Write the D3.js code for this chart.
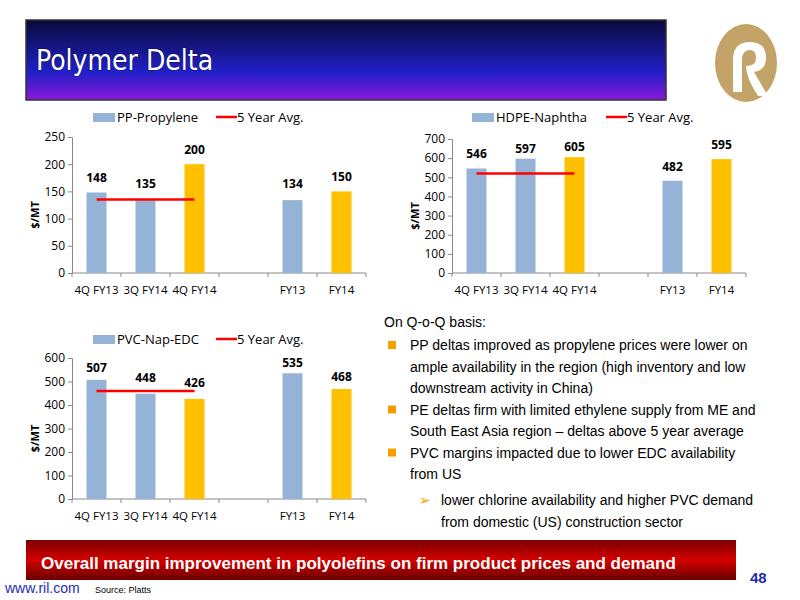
<!DOCTYPE html>
<html><head><meta charset="utf-8">
<script src="https://cdn.jsdelivr.net/npm/d3@7"></script>
<style>body{margin:0;background:#fff}svg{display:block}</style>
</head><body><svg id="c" width="800" height="600"></svg>
<script>
// data
const categories = ["4Q FY13", "3Q FY14", "4Q FY14", "", "FY13", "FY14"];
const ppValues = [148, 135, 200, null, 134, 150];
const hdpeValues = [546, 597, 605, null, 482, 595];
const pvcValues = [507, 448, 426, null, 535, 468];
const ppAvg = 135, hdpeAvg = 520, pvcAvg = 460;
const highlight = [false, false, true, false, false, true];

const svg = d3.select("#c");
const defs = svg.append("defs");
const hg = defs.append("linearGradient").attr("id", "hg").attr("x1", 0).attr("y1", 0).attr("x2", 0).attr("y2", 1);
hg.append("stop").attr("offset", "0").attr("stop-color", "#0a0a3a");
hg.append("stop").attr("offset", "0.65").attr("stop-color", "#2020c8");
hg.append("stop").attr("offset", "1").attr("stop-color", "#8a18d8");
const rg = defs.append("linearGradient").attr("id", "rg").attr("x1", 0).attr("y1", 0).attr("x2", 0).attr("y2", 1);
rg.append("stop").attr("offset", "0").attr("stop-color", "#7a0000");
rg.append("stop").attr("offset", "0.5").attr("stop-color", "#d40000");
rg.append("stop").attr("offset", "1").attr("stop-color", "#6a0000");

// header
svg.append("rect").attr("x", 26).attr("y", 20).attr("width", 640).attr("height", 80)
    .attr("fill", "url(#hg)").attr("stroke", "#333").attr("stroke-width", 1.5);
svg.append("text").attr("x", 36).attr("y", 70).text("Polymer Delta")
    .attr("fill", "#fff").attr("font-family", "DejaVu Sans Condensed, DejaVu Sans").attr("font-size", 28)
    .attr("stroke", "#000").attr("stroke-width", 0.4).attr("paint-order", "stroke");
// logo
svg.append("ellipse").attr("cx", 746).attr("cy", 63).attr("rx", 31).attr("ry", 39).attr("fill", "#c3a367");
svg.append("path").attr("d", "M733,92 L733,60 Q733,42 750,42 Q766,42 766,58 Q766,70 754,72 L768,96 L758,96 Q746,78 746,66 Q756,66 756,58 Q756,50 750,50 Q742,50 742,60 L742,92 Z")
    .attr("fill", "#fff");

function drawChart(cfg) {
    const g = svg.append("g").attr("font-family", "Open Sans, DejaVu Sans");
    const y = d3.scaleLinear().domain([0, cfg.max]).range([cfg.yb, cfg.yt]);
    const yAxis = d3.axisLeft(y).tickValues(d3.range(0, cfg.max + 1, cfg.step)).tickSize(4);
    g.append("g").attr("transform", "translate(" + cfg.x0 + ",0)").call(yAxis)
        .call(a => a.selectAll("text").attr("font-size", 12).attr("fill", "#000").attr("font-family", "Open Sans"))
        .call(a => a.selectAll("line,path").attr("stroke", "#888"));
    const x = d3.scaleBand().domain(d3.range(categories.length)).range([cfg.x0, cfg.x1]);
    g.append("line").attr("x1", cfg.x0).attr("x2", cfg.x1).attr("y1", cfg.yb).attr("y2", cfg.yb).attr("stroke", "#888");
    d3.range(categories.length + 1).forEach(i => {
        const tx = cfg.x0 + i * x.step();
        g.append("line").attr("x1", tx).attr("x2", tx).attr("y1", cfg.yb).attr("y2", cfg.yb + 4).attr("stroke", "#888");
    });
    const bw = 20;
    categories.forEach((c, i) => {
        const cx = x(i) + x.bandwidth() / 2;
        g.append("text").attr("x", cx).attr("y", cfg.yb + 21).attr("text-anchor", "middle")
            .attr("font-size", 11.5).text(c);
        const v = cfg.values[i];
        if (v == null) return;
        g.append("rect").attr("x", cx - bw / 2).attr("y", y(v)).attr("width", bw).attr("height", cfg.yb - y(v))
            .attr("fill", highlight[i] ? "#ffc000" : "#95b3d7");
        g.append("text").attr("x", cx).attr("y", y(v) - cfg.lblOff[i]).attr("text-anchor", "middle")
            .attr("font-size", 12).attr("font-weight", "bold").text(v);
    });
    g.append("line").attr("x1", x(0) + x.bandwidth() / 2).attr("x2", x(2) + x.bandwidth() / 2)
        .attr("y1", y(cfg.avg)).attr("y2", y(cfg.avg)).attr("stroke", "#ff0000").attr("stroke-width", 2.5);
    g.append("text").attr("transform", "translate(" + (cfg.x0 - 33) + "," + ((cfg.yt + cfg.yb) / 2 + 10) + ") rotate(-90)")
        .attr("text-anchor", "middle").attr("font-size", 11).attr("font-weight", "bold").text("$/MT");
    // legend
    g.append("rect").attr("x", cfg.lx).attr("y", cfg.ly - 9).attr("width", 22).attr("height", 9).attr("fill", "#95b3d7");
    g.append("text").attr("x", cfg.lx + 24).attr("y", cfg.ly).attr("font-size", 13).text(cfg.name);
    g.append("line").attr("x1", cfg.lx + cfg.lw).attr("x2", cfg.lx + cfg.lw + 21).attr("y1", cfg.ly - 5).attr("y2", cfg.ly - 5)
        .attr("stroke", "#ff0000").attr("stroke-width", 2.5);
    g.append("text").attr("x", cfg.lx + cfg.lw + 21).attr("y", cfg.ly).attr("font-size", 13).text("5 Year Avg.");
}

drawChart({x0: 72, x1: 366, yt: 137, yb: 273, max: 250, step: 50, values: ppValues, avg: ppAvg,
    name: "PP-Propylene", lx: 93, ly: 122, lw: 123, lblOff: [10, 12, 10, 0, 12, 10]});
drawChart({x0: 452, x1: 746, yt: 139, yb: 273, max: 700, step: 100, values: hdpeValues, avg: hdpeAvg,
    name: "HDPE-Naphtha", lx: 472, ly: 122, lw: 134, lblOff: [10, 6, 6, 0, 10, 10]});
drawChart({x0: 72, x1: 366, yt: 358, yb: 499, max: 600, step: 100, values: pvcValues, avg: pvcAvg,
    name: "PVC-Nap-EDC", lx: 93, ly: 344, lw: 123, lblOff: [8, 12, 12, 0, 6, 8]});

// text block
const tb = svg.append("g").attr("font-family", "Liberation Sans, Arial").attr("font-size", 14);
tb.append("text").attr("x", 384).attr("y", 327).text("On Q-o-Q basis:");
const lines = [
    [true, "PP deltas improved as propylene prices were lower on"], [false, "ample availability in the region (high inventory and low"],
    [false, "downstream activity in China)"], [true, "PE deltas firm with limited ethylene supply from ME and"],
    [false, "South East Asia region \u2013 deltas above 5 year average"], [true, "PVC margins impacted due to lower EDC availability"],
    [false, "from US"]];
lines.forEach((l, i) => {
    const yy = 350 + i * 21.5;
    if (l[0]) tb.append("rect").attr("x", 388).attr("y", yy - 9).attr("width", 8).attr("height", 8).attr("fill", "#f5a000");
    tb.append("text").attr("x", 410).attr("y", yy).text(l[1]);
});
tb.append("text").attr("x", 419).attr("y", 505).attr("fill", "#f5a000").attr("font-size", 14).attr("font-family", "DejaVu Sans").text("\u27A2");
tb.append("text").attr("x", 441).attr("y", 505).text("lower chlorine availability and higher PVC demand");
tb.append("text").attr("x", 441).attr("y", 527).text("from domestic (US) construction sector");

// footer
svg.append("rect").attr("x", 26).attr("y", 540).attr("width", 710).attr("height", 40).attr("fill", "url(#rg)");
svg.append("text").attr("x", 41).attr("y", 569).attr("fill", "#fff").attr("font-family", "Liberation Sans, Arial")
    .attr("font-weight", "bold").attr("font-size", 17).text("Overall margin improvement in polyolefins on firm product prices and demand");
svg.append("text").attr("x", 750).attr("y", 583).attr("fill", "#1a2bb0").attr("font-family", "Liberation Sans Narrow, Liberation Sans")
    .attr("font-weight", "bold").attr("font-size", 15).text("48");
svg.append("text").attr("x", 5).attr("y", 593).attr("fill", "#1a2bb0").attr("font-family", "Liberation Sans Narrow, Liberation Sans")
    .attr("font-size", 14).text("www.ril.com");
svg.append("text").attr("x", 95).attr("y", 593).attr("fill", "#000").attr("font-family", "Liberation Sans Narrow, Liberation Sans")
    .attr("font-size", 9).text("Source: Platts");
</script></body></html>
